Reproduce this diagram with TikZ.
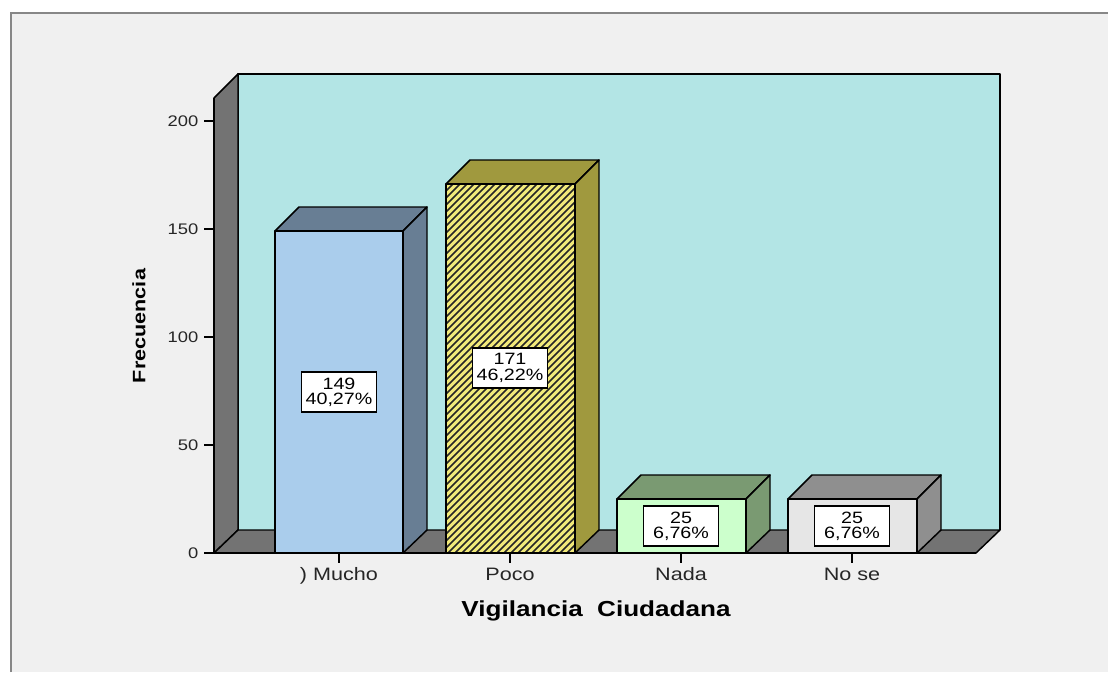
\documentclass[tikz,border=0pt]{standalone}
\usepackage{fontspec}
\setmainfont{Liberation Sans}[FakeStretch=1.2]
\usetikzlibrary{positioning}

\definecolor{pagebg}{RGB}{240,240,240}
\definecolor{framegray}{RGB}{135,135,135}
\definecolor{wallcyan}{RGB}{179,229,229}
\definecolor{wallgray}{RGB}{115,115,115}
\definecolor{muchofront}{RGB}{170,205,236}
\definecolor{muchoside}{RGB}{104,126,148}
\definecolor{pocofront}{RGB}{242,234,122}
\definecolor{pocoside}{RGB}{160,153,62}
\definecolor{nadafront}{RGB}{204,255,204}
\definecolor{nadaside}{RGB}{122,154,114}
\definecolor{noseFront}{RGB}{230,230,230}
\definecolor{noseside}{RGB}{143,143,143}

\tikzset{
  edge/.style={draw=black,line width=1.1pt,line join=round},
  valbox/.style={draw=black,fill=white,line width=0.9pt,align=center,minimum width=56pt,minimum height=30pt,inner sep=1pt,font=\fontsize{12.3}{11.5}\selectfont},
  ticklbl/.style={anchor=east,font=\fontsize{11.5}{12}\selectfont,text=black!85},
  catlbl/.style={anchor=north,font=\fontsize{13.5}{14}\selectfont,text=black!85},
}

\begin{document}
\begin{tikzpicture}[x=0.75pt,y=0.75pt,yscale=-1,xscale=1]
\useasboundingbox (0,0) rectangle (1108,672);
%Shape: Page
\fill[white] (0,0) rectangle (1108,672);
\fill[pagebg] (11,13) rectangle (1108,672);
\draw[framegray,line width=2pt] (11,672) -- (11,13) -- (1108,13);
%Shape: Back wall
\fill[wallcyan] (238,74) rectangle (1000,530);
\draw[edge] (238,530) -- (238,74) -- (1000,74) -- (1000,530);
%Shape: Side wall
\filldraw[edge,fill=wallgray] (214,98) -- (238,74) -- (238,530) -- (214,553) -- cycle;
%Shape: Floor
\filldraw[edge,fill=wallgray] (214,553) -- (238,530) -- (1000,530) -- (976,553) -- cycle;

%Shape: Bar Mucho
\filldraw[edge,fill=muchoside] (275,231) -- (299,207) -- (427,207) -- (403,231) -- cycle;
\filldraw[edge,fill=muchoside] (403,231) -- (427,207) -- (427,530) -- (403,553) -- cycle;
\filldraw[edge,fill=muchofront] (275,231) rectangle (403,553);
%Shape: Bar Poco
\filldraw[edge,fill=pocoside] (446,184) -- (470,160) -- (599,160) -- (575,184) -- cycle;
\filldraw[edge,fill=pocoside] (575,184) -- (599,160) -- (599,530) -- (575,553) -- cycle;
\fill[pocofront] (446,184) rectangle (575,553);
\begin{scope}
  \clip (446,184) rectangle (575,553);
  \foreach \hx in {77,84,...,582} {
    \draw[black!85,line width=1.3pt] (\hx,553) -- (\hx+369,184);
  }
\end{scope}
\draw[edge] (446,184) rectangle (575,553);
%Shape: Bar Nada
\filldraw[edge,fill=nadaside] (617,499) -- (641,475) -- (770,475) -- (746,499) -- cycle;
\filldraw[edge,fill=nadaside] (746,499) -- (770,475) -- (770,530) -- (746,553) -- cycle;
\filldraw[edge,fill=nadafront] (617,499) rectangle (746,553);
%Shape: Bar No se
\filldraw[edge,fill=noseside] (788,499) -- (812,475) -- (941,475) -- (917,499) -- cycle;
\filldraw[edge,fill=noseside] (917,499) -- (941,475) -- (941,530) -- (917,553) -- cycle;
\filldraw[edge,fill=noseFront] (788,499) rectangle (917,553);

%Straight Lines: axis and ticks
\draw[edge] (214,98) -- (214,553) -- (976,553);
\foreach \ty/\tv in {553/0,445/50,337/100,229/150,121/200} {
  \draw[black,line width=1pt] (204,\ty) -- (214,\ty);
  \node[ticklbl] (tick\tv) at (203,\ty) {\tv};
}

% Text Node
\node[valbox] (valMucho) at (339,392) {149\\40,27\%};
\node[valbox] (valPoco) at (510,368) {171\\46,22\%};
\node[valbox] (valNada) at (681,526) {25\\6,76\%};
\node[valbox] (valNose) at (852,526) {25\\6,76\%};

% Text Node
\foreach \cx/\cn/\ct in {339/Mucho/{) Mucho},510/Poco/Poco,681/Nada/Nada,852/Nose/No se} {
  \draw[black,line width=1pt] (\cx,553) -- (\cx,563);
  \node[catlbl] (cat\cn) at (\cx,563) {\ct};
}

% Text Node
\node[font=\bfseries\fontsize{16.3}{17}\selectfont] (xtitle) at (596,611) {Vigilancia\ \ Ciudadana};
% Text Node
\node[font=\bfseries\fontsize{13.5}{14}\selectfont,rotate=90] (ytitle) at (139,326) {Frecuencia};
\end{tikzpicture}
\end{document}
